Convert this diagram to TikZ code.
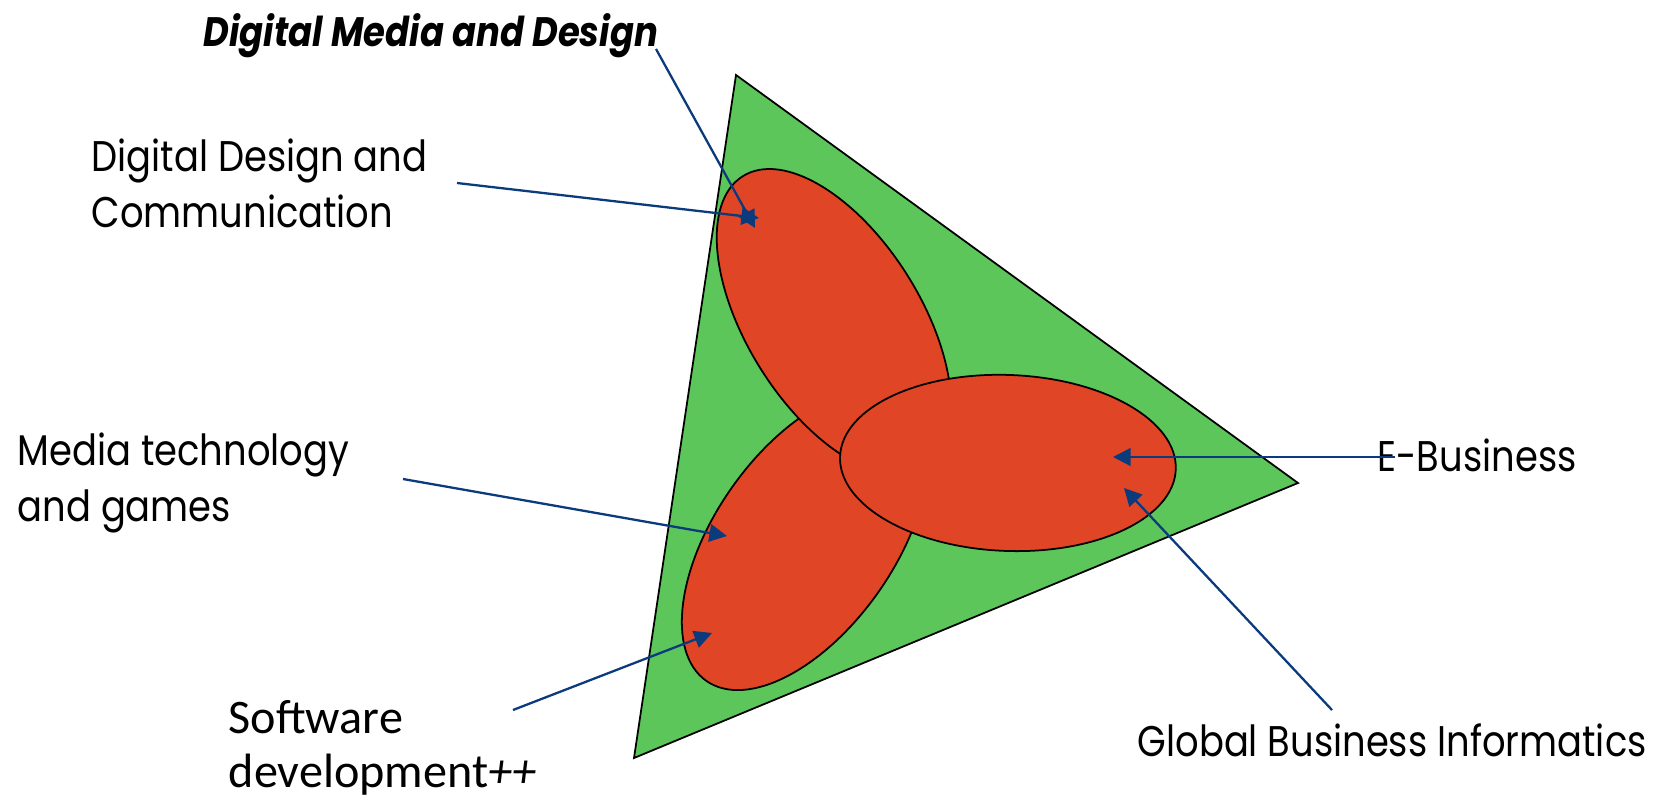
\documentclass[tikz,border=0pt]{standalone}
\usepackage{fontspec}
\usetikzlibrary{arrows.meta}
\newfontfamily\gothic[FakeStretch=0.86]{Poppins}
\newfontfamily\calib{Carlito}
\definecolor{fieldgreen}{HTML}{5CC65B}
\definecolor{blobred}{HTML}{E04525}
\definecolor{pointerblue}{HTML}{0B3A7D}

\begin{document}
\begin{tikzpicture}[x=0.01cm,y=-0.01cm,
  blob/.style={fill=blobred,draw=black,line width=0.5pt},
  pointer/.style={draw=pointerblue,line width=0.65pt,-{Triangle[length=5pt,width=5pt]}},
  lbl/.style={anchor=base west,inner sep=0pt,align=left,font=\gothic\fontsize{12.2}{15.9}\selectfont}]
 \useasboundingbox (0,0) rectangle (1657,797);
 % field
 \filldraw[fill=fieldgreen,draw=black,line width=0.5pt] (736,75) -- (1298,483) -- (634,758) -- cycle;
 % ellipses
 \coordinate (lowC) at (805,540);
 \coordinate (upC) at (834,322);
 \coordinate (midC) at (1008,463);
 \draw[blob,rotate around={55:(lowC)}] (lowC) ellipse [x radius=172,y radius=90];
 \draw[blob,rotate around={-58:(upC)}] (upC) ellipse [x radius=172,y radius=87];
 \draw[blob,rotate around={-2.2:(midC)}] (midC) ellipse [x radius=168,y radius=88];
 % labels (base = last line)
 \node[lbl,font=\gothic\bfseries\itshape\fontsize{11.7}{14}\selectfont] (dmd) at (203,47) {Digital Media and Design};
 \node[lbl] (ddc) at (91,227) {Digital Design and\\Communication};
 \node[lbl] (mtg) at (17,521) {Media technology\\and games};
 \node[lbl,font=\calib\fontsize{13.7}{15.1}\selectfont] (swd) at (228,787) {Software\\development\textit{++}};
 \node[lbl] (ebus) at (1377,471) {E-Business};
 \node[lbl] (gbi) at (1137,756) {Global Business Informatics};
 % pointers
 \coordinate (dmdFrom) at (656,49);   \coordinate (dmdTo) at (755,228);
 \coordinate (ddcFrom) at (457,183);  \coordinate (ddcTo) at (759,218);
 \coordinate (mtgFrom) at (403,479);  \coordinate (mtgTo) at (727,536);
 \coordinate (swdFrom) at (513,710);  \coordinate (swdTo) at (712,633);
 \coordinate (ebusFrom) at (1395,457); \coordinate (ebusTo) at (1113,457);
 \coordinate (gbiFrom) at (1332,710); \coordinate (gbiTo) at (1124,488);
 \foreach \p in {dmd,ddc,mtg,swd,ebus,gbi}
  \draw[pointer] (\p From) -- (\p To);
\end{tikzpicture}
\end{document}
